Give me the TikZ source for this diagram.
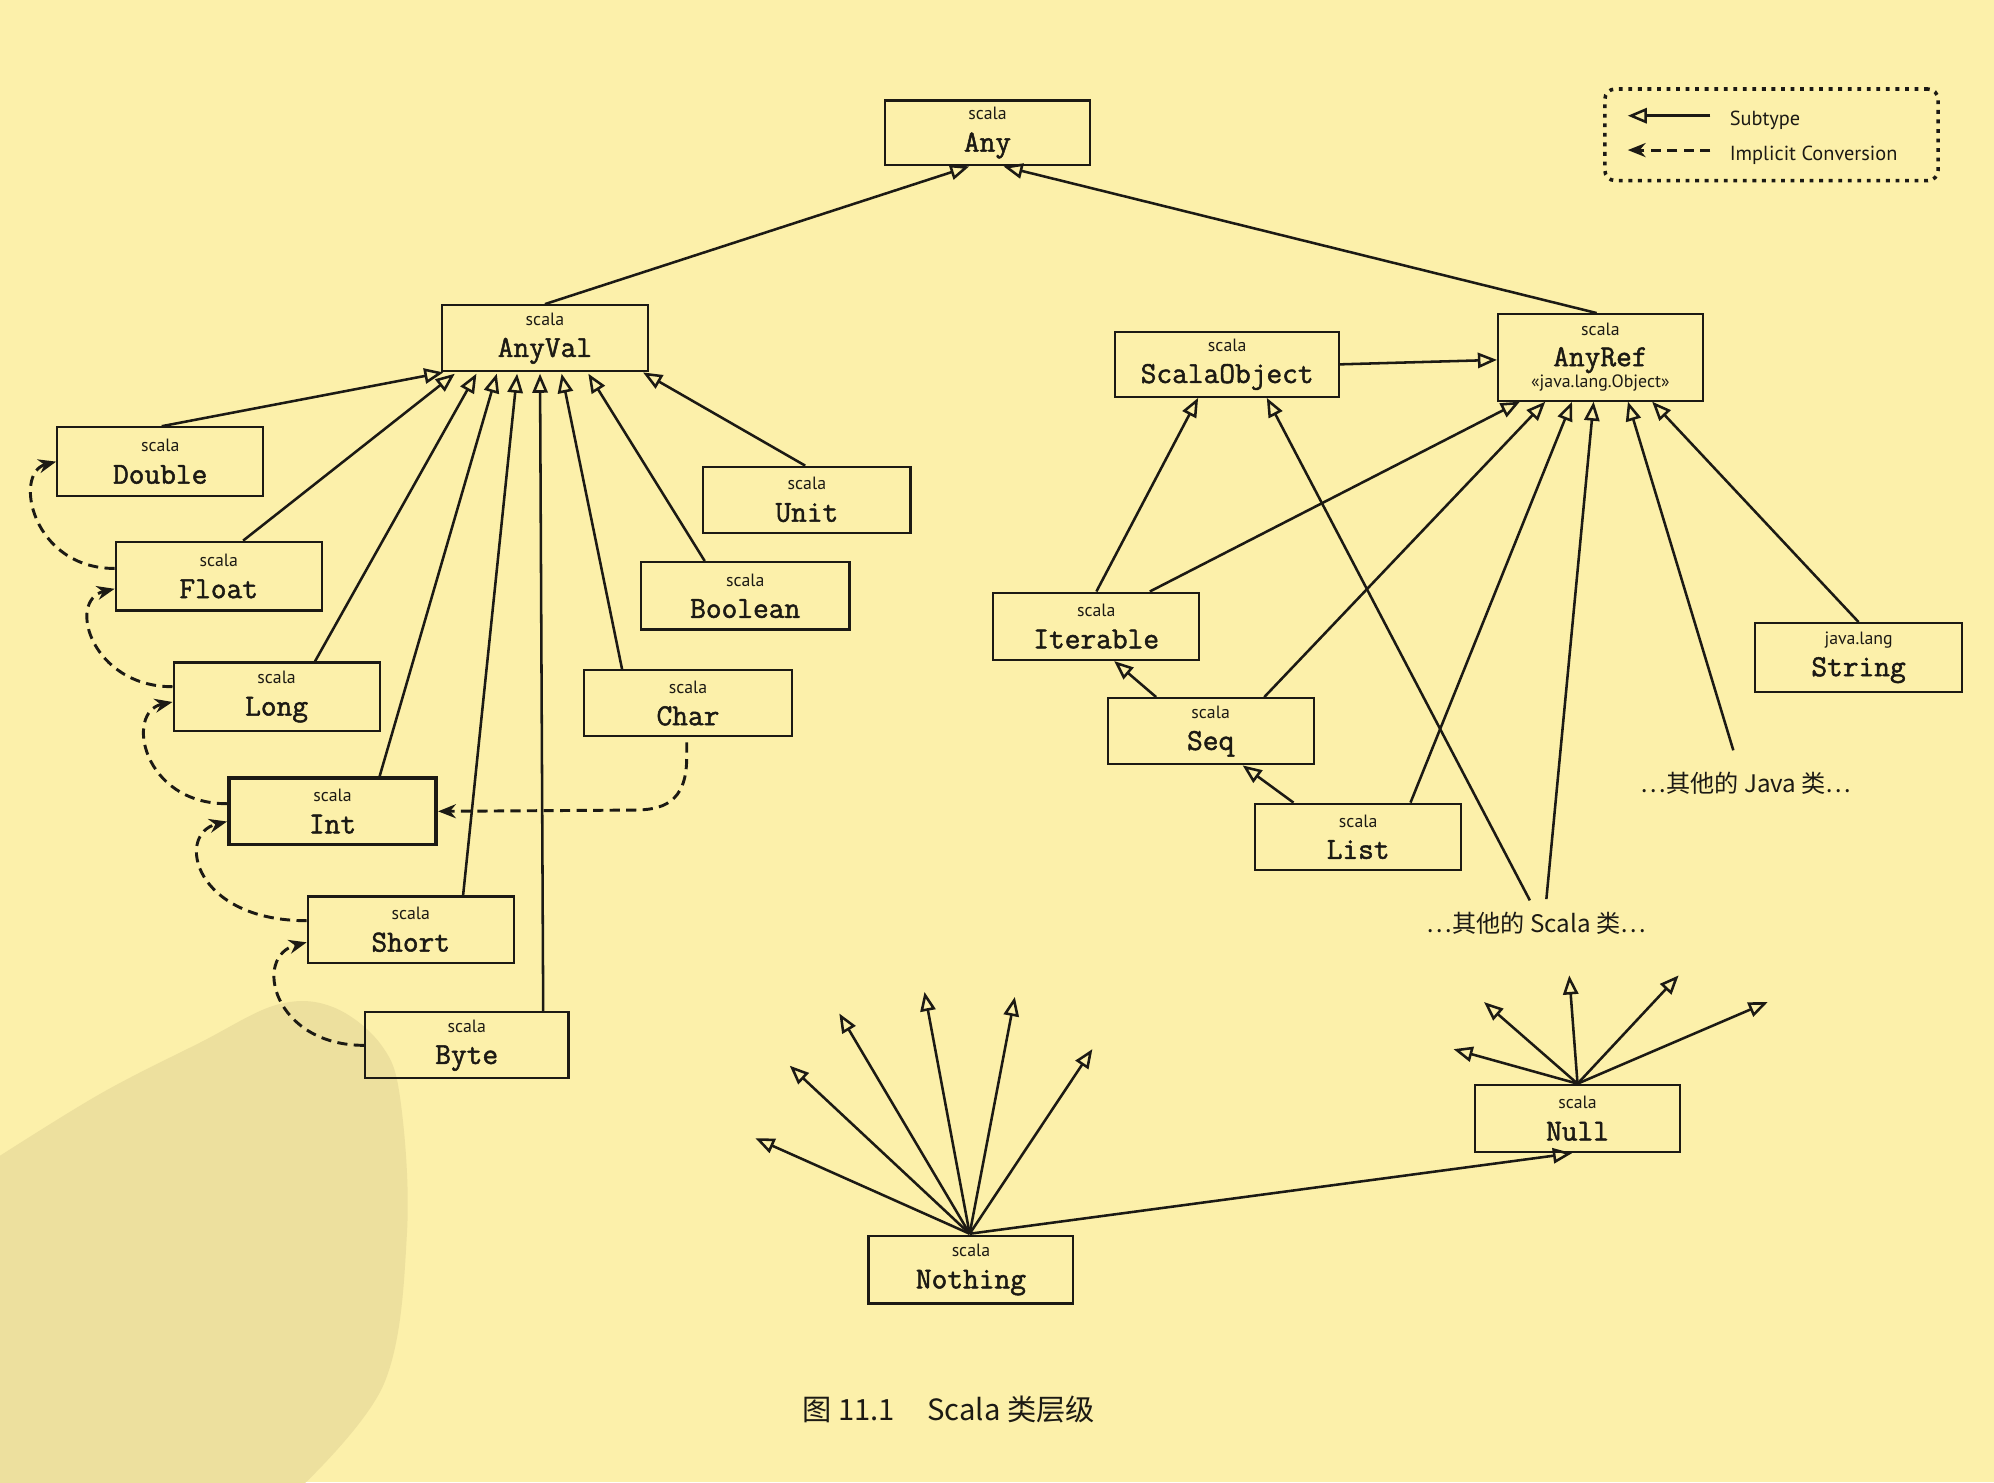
\documentclass[tikz,border=0pt]{standalone}
\usepackage{fontspec}
\newfontfamily\cjk{Noto Sans CJK SC}
\newfontfamily\ptsans{PT Sans}
\newfontfamily\clsf{Latin Modern Mono}[FakeBold=1.6]
\usetikzlibrary{arrows.meta,calc}
\definecolor{bg}{HTML}{FCF0AA}
\definecolor{blob}{HTML}{EDE09E}
\definecolor{ink}{HTML}{1C1A14}
\newcommand\pkgf{\ptsans\fontsize{14}{15}\selectfont}
\newcommand\clsname[2]{{\pkgf #1}\\[-1pt]#2}
\tikzset{
  cls/.style={draw=ink, line width=1.7pt, minimum width=162pt, minimum height=53pt,
    inner sep=0pt, align=center, text=ink, font=\clsf\fontsize{24}{26}\selectfont},
  sub/.style={draw=ink, line width=2pt, -{Triangle[open, length=15pt, width=12pt, line width=2pt]}},
  impl/.style={draw=ink, line width=2.3pt, dash pattern=on 8pt off 5pt, -{Stealth[length=14pt, width=11pt]}},
  cjklabel/.style={text=ink, font=\cjk\fontsize{19}{21}\selectfont},
  legtext/.style={text=ink, anchor=west, inner sep=0pt, font=\ptsans\fontsize{16}{18}\selectfont},
}
\begin{document}
\begin{tikzpicture}[x=1pt,y=-1pt]
\useasboundingbox (0,0) rectangle (1568,1165.4);
\fill[bg] (0,0) rectangle (1568,1165.4);
\fill[blob] plot[smooth, tension=0.6] coordinates {(-5,912) (79,860) (157,820) (218,790) (262,792) (300,822) (315,866) (320,970) (302,1088) (236,1170)} -- (-5,1170) -- cycle;

% legend
\node[draw=ink, rounded corners=8pt, line width=2.8pt, dash pattern=on 3pt off 4.5pt,
  minimum width=262pt, minimum height=72pt, inner sep=0pt] (legend) at (1393,106) {};
\coordinate (l1s) at (1345,91);
\coordinate (l1e) at (1280,91);
\coordinate (l2s) at (1345,118);
\coordinate (l2e) at (1280,118);
\draw[sub] (l1s) -- (l1e);
\draw[impl] (l2s) -- (l2e);
\node[legtext] (lt1) at (1360,95) {Subtype};
\node[legtext] (lt2) at (1360,122) {Implicit Conversion};

% classes
\node[cls, minimum width=161pt, minimum height=51pt] (Any) at (776.5,104.5) {\clsname{scala}{Any}};
\node[cls, minimum height=52pt] (AnyVal) at (428.5,266) {\clsname{scala}{AnyVal}};
\node[cls, minimum height=54pt] (Double) at (126,363) {\clsname{scala}{Double}};
\node[cls, minimum height=54pt] (Float) at (172,453) {\clsname{scala}{Float}};
\node[cls, minimum height=54pt] (Long) at (217.5,548) {\clsname{scala}{Long}};
\node[cls, line width=3pt, minimum width=163pt, minimum height=52pt] (Int) at (261.5,638) {\clsname{scala}{Int}};
\node[cls, minimum height=52pt] (Short) at (323,731) {\clsname{scala}{Short}};
\node[cls, minimum width=160pt, minimum height=52pt] (Byte) at (367,822) {\clsname{scala}{Byte}};
\node[cls, minimum width=163pt, minimum height=52pt] (Unit) at (634.5,393) {\clsname{scala}{Unit}};
\node[cls, minimum width=164pt, minimum height=53pt] (Boolean) at (586,468.5) {\clsname{scala}{Boolean}};
\node[cls, minimum width=164pt, minimum height=52pt] (Char) at (541,553) {\clsname{scala}{Char}};
\node[cls, minimum width=176pt, minimum height=51pt] (ScalaObject) at (965,286.5) {\clsname{scala}{ScalaObject}};
\node[cls, minimum width=161pt, minimum height=68pt] (AnyRef) at (1258.5,281) {{\pkgf scala}\\[-2pt]AnyRef\\[-9pt]{\pkgf «java.lang.Object»}};
\node[cls, minimum width=162pt, minimum height=53pt] (Iterable) at (862,492.5) {\clsname{scala}{Iterable}};
\node[cls, minimum width=162pt, minimum height=52pt] (Seq) at (952,575) {\clsname{scala}{Seq}};
\node[cls, minimum width=162pt, minimum height=52pt] (List) at (1068,658) {\clsname{scala}{List}};
\node[cls, minimum width=163pt, minimum height=54pt] (String) at (1461.5,517) {\clsname{java.lang}{String}};
\node[cls, minimum width=161pt, minimum height=53pt] (Null) at (1240.5,879.5) {\clsname{scala}{Null}};
\node[cls, minimum width=161pt, minimum height=53pt] (Nothing) at (763.5,998.5) {\clsname{scala}{Nothing}};

% other-class labels
\node[cjklabel] (ojava) at (1373,616) {…其他的 Java 类…};
\node[cjklabel] (oscala) at (1208,726) {…其他的 Scala 类…};
\coordinate (oj) at (1363,590);
\coordinate (os1) at (1216,707);
\coordinate (os2) at (1203,708);

% caption
\node[text=ink, font=\cjk\fontsize{23}{25}\selectfont] (cap) at (746,1108) {图 11.1\hspace{1.1em}Scala 类层级};

% subtype edges to Any
\draw[sub] (AnyVal.north) -- ($(Any.south west)+(67,0)$);
\draw[sub] ($(AnyRef.north)+(-3,0)$) -- ($(Any.south west)+(94,0)$);

% subtype edges to AnyVal
\draw[sub] ($(Double.north west)+(83,0)$) -- ($(AnyVal.south west)+(2,0)$);
\draw[sub] ($(Float.north west)+(101,0)$) -- ($(AnyVal.south west)+(11,1)$);
\draw[sub] ($(Long.north west)+(112,0)$) -- ($(AnyVal.south west)+(28,1)$);
\draw[sub] ($(Int.north west)+(120,0)$) -- ($(AnyVal.south west)+(44,1)$);
\draw[sub] ($(Short.north west)+(123,0)$) -- ($(AnyVal.south west)+(60,1)$);
\draw[sub] ($(Byte.north west)+(141,0)$) -- ($(AnyVal.south west)+(78,1)$);
\draw[sub] ($(Char.north west)+(31,0)$) -- ($(AnyVal.south west)+(95,1)$);
\draw[sub] ($(Boolean.north west)+(51,0)$) -- ($(AnyVal.south west)+(116,1)$);
\draw[sub] ($(Unit.north west)+(81,0)$) -- ($(AnyVal.south west)+(159,0)$);

% subtype edges on the reference side
\draw[sub] (ScalaObject.east) -- ($(AnyRef.west)+(0,2)$);
\draw[sub] ($(Iterable.north west)+(82,0)$) -- ($(ScalaObject.south west)+(66,0)$);
\draw[sub] ($(Iterable.north west)+(124,0)$) -- ($(AnyRef.south west)+(18,0)$);
\draw[sub] ($(Seq.north west)+(39,0)$) -- ($(Iterable.south west)+(96,0)$);
\draw[sub] ($(Seq.north west)+(124,0)$) -- ($(AnyRef.south west)+(38,0)$);
\draw[sub] ($(List.north west)+(31,0)$) -- ($(Seq.south west)+(107,0)$);
\draw[sub] ($(List.north west)+(123,0)$) -- ($(AnyRef.south west)+(59,0)$);
\draw[sub] (os2) -- ($(ScalaObject.south west)+(120,0)$);
\draw[sub] (os1) -- ($(AnyRef.south west)+(76,0)$);
\draw[sub] (oj) -- ($(AnyRef.south west)+(103,0)$);
\draw[sub] (String.north) -- ($(AnyRef.south west)+(122,0)$);

% Nothing
\coordinate (nt) at ($(Nothing.north)+(-1,-1)$);
\coordinate (n1) at (594,895);
\coordinate (n2) at (621,838);
\coordinate (n3) at (660,797);
\coordinate (n4) at (727,780);
\coordinate (n5) at (798,784);
\coordinate (n6) at (859,825);
\foreach \t in {n1,n2,n3,n4,n5,n6} \draw[sub] (nt) -- (\t);
\draw[sub] (nt) -- ($(Null.south west)+(77,0)$);

% Null
\coordinate (nl) at (Null.north);
\coordinate (m1) at (1143,825);
\coordinate (m2) at (1167,788);
\coordinate (m3) at (1234,767);
\coordinate (m4) at (1320,767);
\coordinate (m5) at (1390,788);
\foreach \t in {m1,m2,m3,m4,m5} \draw[sub] (nl) -- (\t);

% implicit conversions
\draw[impl] ($(Float.west)+(0,-6)$) .. controls (25,447) and (10,372) .. (Double.west);
\draw[impl] ($(Long.west)+(0,-8)$) .. controls (72,540) and (52,472) .. ($(Float.west)+(0,10)$);
\draw[impl] ($(Int.west)+(0,-6)$) .. controls (112,632) and (98,560) .. ($(Long.west)+(0,4)$);
\draw[impl] ($(Short.west)+(0,-7)$) .. controls (152,724) and (138,656) .. ($(Int.west)+(0,8)$);
\draw[impl] (Byte.west) .. controls (215,822) and (198,752) .. ($(Short.west)+(0,10)$);
\draw[impl] ($(Char.south)+(-1,4)$) -- ++(0,12) .. controls (540,632) and (520,637) .. (498,637) -- (Int.east);
\end{tikzpicture}
\end{document}
